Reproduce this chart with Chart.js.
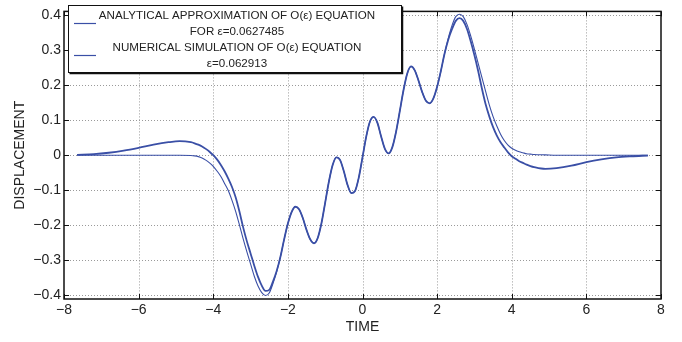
<!DOCTYPE html>
<html>
<head>
<meta charset="utf-8">
<script src="https://cdn.jsdelivr.net/npm/chart.js@4.4.1/dist/chart.umd.min.js"></script>
<style>
  html, body { margin: 0; padding: 0; background: #fff; }
  #wrap { width: 682px; height: 342px; }
</style>
</head>
<body>
<div id="wrap"><canvas id="displacementChart" width="682" height="342"></canvas></div>
<script>
// time samples (shared by both curves)
const timeValues = [
  -7.65, -7.2, -6.8, -6.4, -6.0, -5.6, -5.2, -4.9,
  -4.6, -4.5, -4.4, -4.3, -4.2, -4.1, -4.0, -3.9, -3.8, -3.7,
  -3.6, -3.5, -3.4, -3.3, -3.2, -3.1, -3.0, -2.9, -2.8, -2.7,
  -2.6, -2.5, -2.4, -2.3, -2.2, -2.1, -2.0, -1.9, -1.8, -1.7,
  -1.6, -1.5, -1.4, -1.3, -1.2, -1.1, -1.0, -0.9, -0.8, -0.7,
  -0.6, -0.5, -0.4, -0.3, -0.2, -0.1, 0.0, 0.1, 0.2, 0.3,
  0.4, 0.5, 0.6, 0.7, 0.8, 0.9, 1.0, 1.1, 1.2, 1.3,
  1.4, 1.5, 1.6, 1.7, 1.8, 1.9, 2.0, 2.1, 2.2, 2.3,
  2.4, 2.5, 2.6, 2.7, 2.8, 2.9, 3.0, 3.1, 3.2, 3.3,
  3.4, 3.5, 3.6, 3.7, 3.8, 3.9, 4.0, 4.1, 4.2, 4.3,
  4.4, 4.5, 4.6,
  4.9, 5.2, 5.6, 6.0, 6.4, 6.8, 7.2, 7.65
];

const analyticalValues = [
  0.001, 0.003, 0.007, 0.013, 0.021, 0.030, 0.037, 0.040,
  0.037, 0.034, 0.030, 0.025, 0.018, 0.010, 0.0, -0.012, -0.027, -0.045,
  -0.066, -0.09, -0.12, -0.16, -0.205, -0.245, -0.28, -0.315, -0.347, -0.372,
  -0.387, -0.384, -0.36, -0.33, -0.29, -0.24, -0.195, -0.162, -0.147, -0.154,
  -0.179, -0.213, -0.240, -0.251, -0.236, -0.194, -0.135, -0.075, -0.028, -0.006,
  -0.014, -0.046, -0.085, -0.108, -0.102, -0.064, -0.006, 0.053, 0.096, 0.109,
  0.092, 0.053, 0.018, 0.005, 0.023, 0.067, 0.126, 0.186, 0.233, 0.253,
  0.242, 0.213, 0.180, 0.155, 0.148, 0.162, 0.195, 0.24, 0.29, 0.33,
  0.36, 0.383, 0.391, 0.383, 0.36, 0.325, 0.285, 0.24, 0.19, 0.145,
  0.11, 0.08, 0.056, 0.037, 0.022, 0.008, -0.003, -0.01, -0.017, -0.022,
  -0.027, -0.031, -0.034,
  -0.039, -0.037, -0.030, -0.020, -0.012, -0.006, -0.003, -0.001
];

const numericalValues = [
  0, 0, 0, 0, 0, 0, 0, 0,
  -0.001, -0.002, -0.004, -0.008, -0.014, -0.022, -0.032, -0.045, -0.06, -0.08,
  -0.10, -0.128, -0.16, -0.198, -0.238, -0.275, -0.31, -0.345, -0.373, -0.392,
  -0.400, -0.393, -0.366, -0.332, -0.29, -0.24, -0.195, -0.162, -0.147, -0.154,
  -0.179, -0.213, -0.240, -0.251, -0.236, -0.194, -0.135, -0.075, -0.028, -0.006,
  -0.014, -0.046, -0.085, -0.108, -0.102, -0.064, -0.006, 0.053, 0.096, 0.109,
  0.092, 0.053, 0.018, 0.005, 0.023, 0.067, 0.126, 0.186, 0.233, 0.253,
  0.242, 0.213, 0.180, 0.155, 0.148, 0.162, 0.195, 0.24, 0.29, 0.334,
  0.37, 0.395, 0.402, 0.395, 0.373, 0.34, 0.302, 0.262, 0.222, 0.182,
  0.143, 0.11, 0.083, 0.06, 0.042, 0.029, 0.02, 0.014, 0.01, 0.007,
  0.004, 0.003, 0.002,
  0.001, 0, 0, 0, 0, 0, 0, 0
];

const xTicks = [-8, -6, -4, -2, 0, 2, 4, 6, 8];
const yTicks = [-0.4, -0.3, -0.2, -0.1, 0, 0.1, 0.2, 0.3, 0.4];

const legendLines = [
  ['ANALYTICAL APPROXIMATION OF O(\u03b5) EQUATION', 'FOR \u03b5=0.0627485'],
  ['NUMERICAL SIMULATION OF O(\u03b5) EQUATION', '\u03b5=0.062913']
];

const lineColor = '#3a4fa6';
const textColor = '#222';
const fontFamily = '"Liberation Sans", Arial, Helvetica, sans-serif';

function fmt(v) {
  const s = String(Math.round(v * 10) / 10);
  return s.replace('-', '\u2212');
}

function toPoints(values) {
  return timeValues.map((t, i) => ({ x: t, y: values[i] }));
}

// dotted grid behind the curves
const dottedGrid = {
  id: 'dottedGrid',
  beforeDatasetsDraw(chart) {
    const { ctx, chartArea: a, scales } = chart;
    ctx.save();
    ctx.strokeStyle = '#9a9a9a';
    ctx.lineWidth = 1;
    ctx.setLineDash([1, 2]);
    ctx.beginPath();
    xTicks.slice(1, -1).forEach(v => {
      const px = Math.round(scales.x.getPixelForValue(v)) + 0.5;
      ctx.moveTo(px, a.top); ctx.lineTo(px, a.bottom);
    });
    yTicks.forEach(v => {
      const py = Math.round(scales.y.getPixelForValue(v)) + 0.5;
      ctx.moveTo(a.left, py); ctx.lineTo(a.right, py);
    });
    ctx.stroke();
    ctx.restore();
  }
};

// inner ticks + black frame, like the matlab box
const frameTicks = {
  id: 'frameTicks',
  afterDatasetsDraw(chart) {
    const { ctx, chartArea: a, scales } = chart;
    ctx.save();
    ctx.strokeStyle = '#111';
    ctx.lineWidth = 1;
    const len = 5;
    ctx.beginPath();
    xTicks.forEach(v => {
      const px = Math.round(scales.x.getPixelForValue(v)) + 0.5;
      ctx.moveTo(px, a.bottom); ctx.lineTo(px, a.bottom - len);
      ctx.moveTo(px, a.top); ctx.lineTo(px, a.top + len);
    });
    yTicks.forEach(v => {
      const py = Math.round(scales.y.getPixelForValue(v)) + 0.5;
      ctx.moveTo(a.left, py); ctx.lineTo(a.left + len, py);
      ctx.moveTo(a.right, py); ctx.lineTo(a.right - len, py);
    });
    ctx.stroke();
    ctx.lineWidth = 1.5;
    ctx.strokeRect(a.left, a.top, a.right - a.left, a.bottom - a.top);
    ctx.restore();
  }
};

// boxed legend with two-line centred entries
const boxLegend = {
  id: 'boxLegend',
  afterDraw(chart) {
    const { ctx } = chart;
    const bx = 68, by = 5, bw = 333, bh = 67;
    ctx.save();
    ctx.fillStyle = '#fff';
    ctx.fillRect(bx, by, bw, bh);
    ctx.strokeStyle = '#111';
    ctx.lineWidth = 1;
    ctx.strokeRect(bx + 0.5, by + 0.5, bw, bh);
    ctx.lineWidth = 1.5;
    ctx.beginPath();
    ctx.moveTo(bx + 1.5, by + bh + 1.5); ctx.lineTo(bx + bw + 1.5, by + bh + 1.5); ctx.lineTo(bx + bw + 1.5, by + 1.5);
    ctx.stroke();
    ctx.font = '11.6px ' + fontFamily;
    ctx.fillStyle = textColor;
    ctx.textAlign = 'center';
    ctx.textBaseline = 'middle';
    const cx = 237;
    chart.data.datasets.forEach((ds, i) => {
      const top = 16 + i * 32;
      ds.label.forEach((line, j) => ctx.fillText(line, cx, top + j * 16));
      ctx.strokeStyle = ds.borderColor;
      ctx.lineWidth = 1.2;
      ctx.beginPath();
      ctx.moveTo(74, top + 7.5); ctx.lineTo(96, top + 7.5);
      ctx.stroke();
    });
    ctx.restore();
  }
};

const ctx = document.getElementById('displacementChart').getContext('2d');
const displacementChart = new Chart(ctx, {
  type: 'line',
  data: {
    datasets: [
      {
        label: legendLines[0],
        data: toPoints(analyticalValues),
        borderColor: lineColor,
        borderWidth: 1.8,
        pointRadius: 0,
        fill: false,
        cubicInterpolationMode: 'monotone'
      },
      {
        label: legendLines[1],
        data: toPoints(numericalValues),
        borderColor: lineColor,
        borderWidth: 1.1,
        pointRadius: 0,
        fill: false,
        cubicInterpolationMode: 'monotone'
      }
    ]
  },
  options: {
    responsive: false,
    animation: false,
    layout: { padding: { top: 1, right: 21, left: 0, bottom: 0 } },
    plugins: {
      legend: { display: false },
      tooltip: { enabled: false }
    },
    scales: {
      x: {
        type: 'linear',
        min: -8,
        max: 8,
        afterBuildTicks: s => { s.ticks = xTicks.map(v => ({ value: v })); },
        afterFit: s => { s.height = 43; },
        grid: { display: true, drawOnChartArea: false, drawTicks: false },
        border: { display: false },
        ticks: {
          padding: 3,
          color: textColor,
          font: { family: fontFamily, size: 14 },
          callback: v => fmt(v)
        },
        title: {
          display: true,
          text: 'TIME',
          color: textColor,
          font: { family: fontFamily, size: 14 },
          padding: { top: 0, bottom: 6 }
        }
      },
      y: {
        min: -0.41,
        max: 0.41,
        afterBuildTicks: s => { s.ticks = yTicks.map(v => ({ value: v })); },
        afterFit: s => { s.width = 64; },
        grid: { display: true, drawOnChartArea: false, drawTicks: false },
        border: { display: false },
        ticks: {
          padding: 3,
          color: textColor,
          font: { family: fontFamily, size: 14 },
          callback: v => fmt(v)
        },
        title: {
          display: true,
          text: 'DISPLACEMENT',
          color: textColor,
          font: { family: fontFamily, size: 14 },
          padding: { top: 12, bottom: 0 }
        }
      }
    }
  },
  plugins: [dottedGrid, frameTicks, boxLegend]
});
</script>
</body>
</html>
